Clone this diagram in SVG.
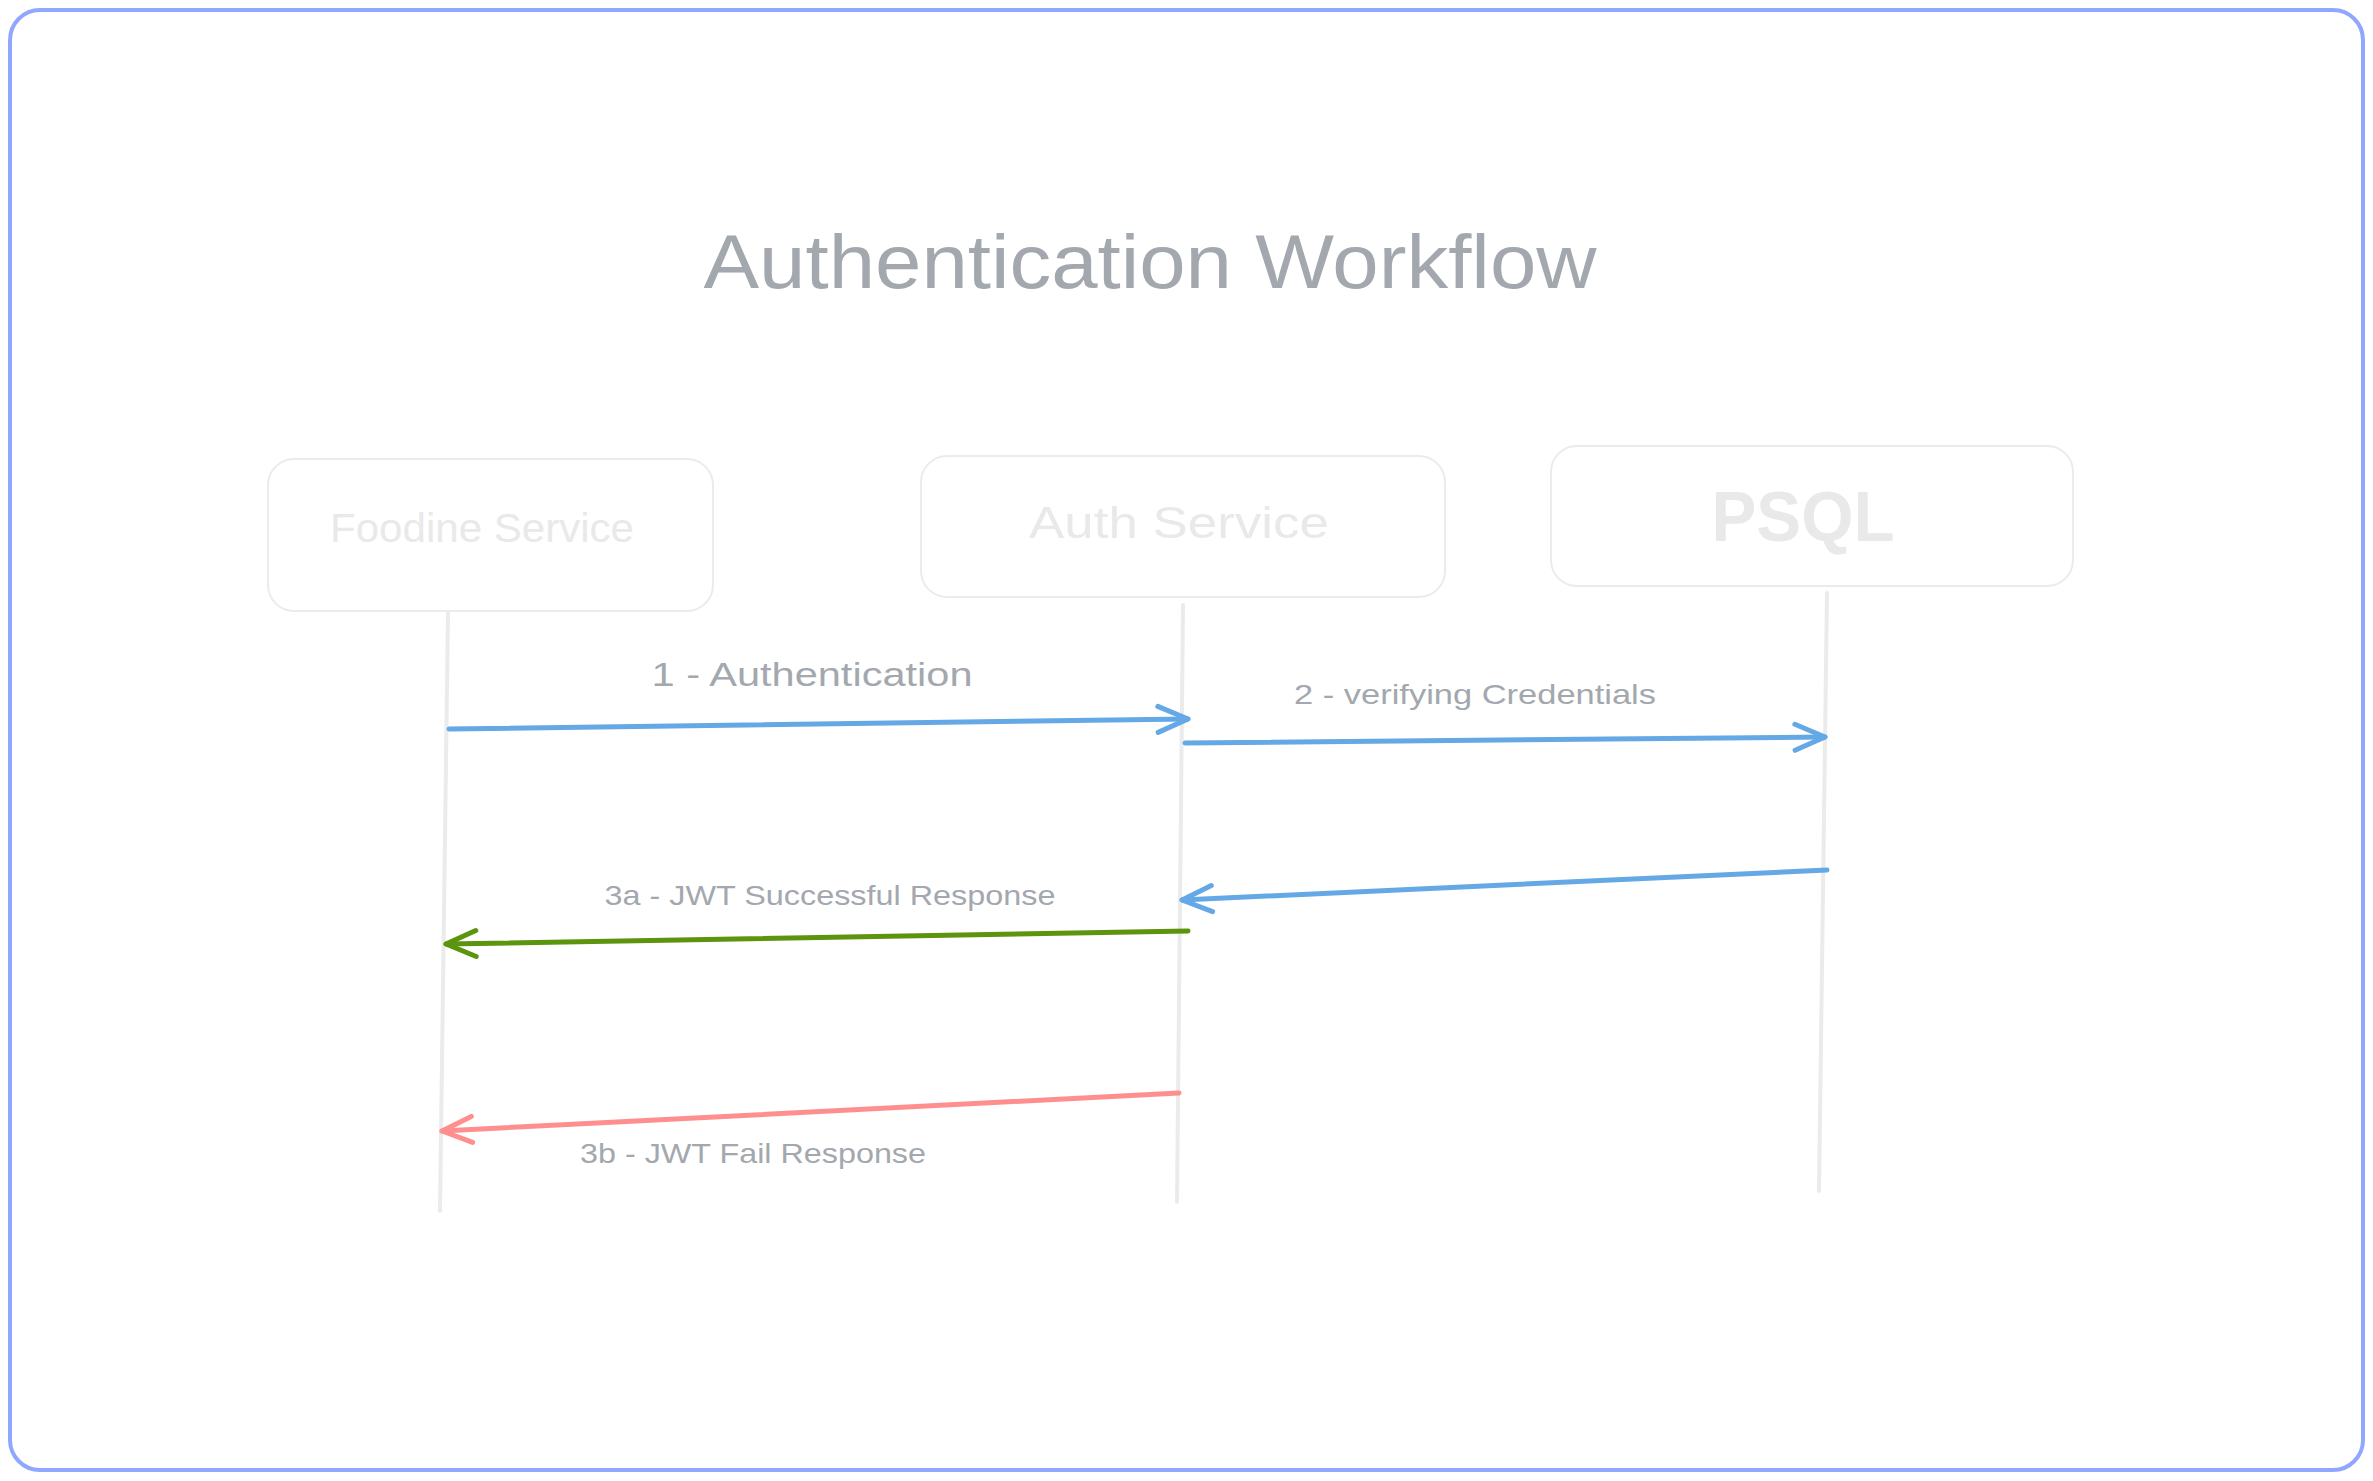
<svg xmlns="http://www.w3.org/2000/svg" width="2373" height="1481" viewBox="0 0 2373 1481">
<style>
.frame{fill:#ffffff;stroke:#91a7ff;stroke-width:4}
.box{fill:#ffffff;stroke:#ebebeb;stroke-width:2}
.life{stroke:#ebebeb;stroke-width:4;stroke-linecap:round;fill:none}
.boxtxt{font-family:"Liberation Sans",Arial,sans-serif;fill:#e9e9e9;text-anchor:middle}
.lbl{font-family:"Liberation Sans",Arial,sans-serif;fill:#a3a8ae;text-anchor:middle}
.title{font-family:"Liberation Sans",Arial,sans-serif;fill:#a3a8ae;text-anchor:middle;font-size:76px}
.arr{fill:none;stroke-width:5;stroke-linecap:round}
.blue{stroke:#65a8e6}
.green{stroke:#5c940d}
.red{stroke:#ff8f8f}
</style>
<defs>
<marker id="hb" markerUnits="userSpaceOnUse" viewBox="-36 -20 42 40" markerWidth="42" markerHeight="40" refX="0" refY="0" orient="auto"><path d="M-30,-13 L0,0 L-30,13" fill="none" stroke="#65a8e6" stroke-width="5" stroke-linecap="round" stroke-linejoin="round"/></marker>
<marker id="hg" markerUnits="userSpaceOnUse" viewBox="-36 -20 42 40" markerWidth="42" markerHeight="40" refX="0" refY="0" orient="auto"><path d="M-30,-13 L0,0 L-30,13" fill="none" stroke="#5c940d" stroke-width="5" stroke-linecap="round" stroke-linejoin="round"/></marker>
<marker id="hr" markerUnits="userSpaceOnUse" viewBox="-36 -20 42 40" markerWidth="42" markerHeight="40" refX="0" refY="0" orient="auto"><path d="M-30,-13 L0,0 L-30,13" fill="none" stroke="#ff8f8f" stroke-width="5" stroke-linecap="round" stroke-linejoin="round"/></marker>
</defs>
<rect class="frame" x="10" y="10" width="2353" height="1460" rx="30"/>
<text class="title" x="1150" y="288" textLength="893" lengthAdjust="spacingAndGlyphs">Authentication Workflow</text>
<g id="lifelines">
<path class="life" d="M448,613 L440,1211"/>
<path class="life" d="M1183,605 L1177,1202"/>
<path class="life" d="M1827,593 L1819,1191"/>
</g>
<g id="foodine-service">
<rect class="box" x="268" y="459" width="445" height="152" rx="26"/>
<text class="boxtxt" x="482" y="542" font-size="40" textLength="304" lengthAdjust="spacingAndGlyphs">Foodine Service</text>
</g>
<g id="auth-service">
<rect class="box" x="921" y="456" width="524" height="141" rx="26"/>
<text class="boxtxt" x="1179" y="538" font-size="44" textLength="300" lengthAdjust="spacingAndGlyphs">Auth Service</text>
</g>
<g id="psql">
<rect class="box" x="1551" y="446" width="522" height="140" rx="26"/>
<text class="boxtxt" x="1803" y="541" font-size="70" font-weight="bold" textLength="183" lengthAdjust="spacingAndGlyphs">PSQL</text>
</g>
<g id="connectors">
<path class="arr blue" d="M449,729 L1188,719" marker-end="url(#hb)"/>
<path class="arr blue" d="M1185,743 L1825,737" marker-end="url(#hb)"/>
<path class="arr blue" d="M1827,870 L1182,900" marker-end="url(#hb)"/>
<path class="arr green" d="M1188,931 L446,944" marker-end="url(#hg)"/>
<path class="arr red" d="M1179,1093 L442,1131" marker-end="url(#hr)"/>
</g>
<g id="labels">
<text class="lbl" x="812" y="686" font-size="34" textLength="321" lengthAdjust="spacingAndGlyphs">1 - Authentication</text>
<text class="lbl" x="1475" y="704" font-size="28" textLength="362" lengthAdjust="spacingAndGlyphs">2 - verifying Credentials</text>
<text class="lbl" x="830" y="905" font-size="28" textLength="451" lengthAdjust="spacingAndGlyphs">3a - JWT Successful Response</text>
<text class="lbl" x="753" y="1163" font-size="28" textLength="346" lengthAdjust="spacingAndGlyphs">3b - JWT Fail Response</text>
</g>
</svg>
